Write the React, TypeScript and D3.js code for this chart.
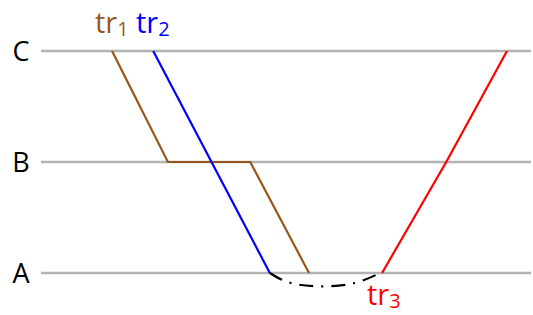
import { useEffect, useRef } from "react"
import * as d3 from "d3"

// levels on the vertical axis
const levels = ["A", "B", "C"]

// trajectories: [time, level index]
const tr1: [number, number][] = [
  [14.5, 2],
  [25.9, 1],
  [42.7, 1],
  [54.7, 0],
]
const tr2: [number, number][] = [
  [22.9, 2],
  [46.7, 0],
]
const tr3: [number, number][] = [
  [69.6, 0],
  [82.7, 1],
  [95.1, 2],
]
// dash-dot link between tr2 and tr3 below level A
const link: [number, number][] = [
  [46.7, 0],
  [51, -0.09],
  [57.5, -0.12],
  [64, -0.09],
  [69.2, 0],
]

export default function App() {
  const svgRef = useRef<SVGSVGElement>(null)

  useEffect(() => {
    if (!svgRef.current) return
    const svg = d3.select(svgRef.current)
    svg.selectAll("*").remove()

    const x = d3.scaleLinear().domain([0, 100]).range([41, 531])
    const y = d3.scaleLinear().domain([0, 2]).range([273, 51])

    const font = "'Open Sans', 'Noto Sans', sans-serif"

    // level grid lines
    svg
      .selectAll(".grid")
      .data(levels)
      .enter()
      .append("line")
      .attr("x1", x(0))
      .attr("x2", x(100))
      .attr("y1", (d, i) => y(i))
      .attr("y2", (d, i) => y(i))
      .attr("stroke", "#b2b2b2")
      .attr("stroke-width", 2.5)

    svg
      .selectAll(".lvl")
      .data(levels)
      .enter()
      .append("text")
      .attr("x", 21)
      .attr("y", (d, i) => y(i))
      .attr("dy", "0.36em")
      .attr("text-anchor", "middle")
      .style("font-family", font)
      .style("font-size", "27px")
      .style("fill", "#000")
      .text((d) => d)

    const line = d3
      .line<[number, number]>()
      .x((d) => x(d[0]))
      .y((d) => y(d[1]))

    const series = [
      { pts: tr1, color: "#99561c" },
      { pts: tr2, color: "#0000ff" },
      { pts: tr3, color: "#ff0000" },
    ]
    series.forEach((s) => {
      svg
        .append("path")
        .attr("d", line(s.pts))
        .attr("fill", "none")
        .attr("stroke", s.color)
        .attr("stroke-width", 2.2)
    })

    svg
      .append("path")
      .attr("d", line.curve(d3.curveNatural)(link))
      .attr("fill", "none")
      .attr("stroke", "#000")
      .attr("stroke-width", 2.2)
      .attr("stroke-dasharray", "14,8,2,8")

    // labels
    const labels = [
      { name: "tr", sub: "1", color: "#99561c", px: 95, py: 33 },
      { name: "tr", sub: "2", color: "#0000ff", px: 136, py: 33 },
      { name: "tr", sub: "3", color: "#ff0000", px: 367, py: 305 },
    ]
    labels.forEach((l) => {
      const t = svg
        .append("text")
        .attr("x", l.px)
        .attr("y", l.py)
        .style("font-family", font)
        .style("font-size", "29px")
        .style("fill", l.color)
      t.append("tspan").text(l.name)
      t.append("tspan").attr("dy", 3).style("font-size", "20px").text(l.sub)
    })
  }, [])

  return (
    <svg
      ref={svgRef}
      width={533}
      height={315}
      style={{ position: "absolute", left: 0, top: 0, background: "#fff" }}
    />
  )
}
